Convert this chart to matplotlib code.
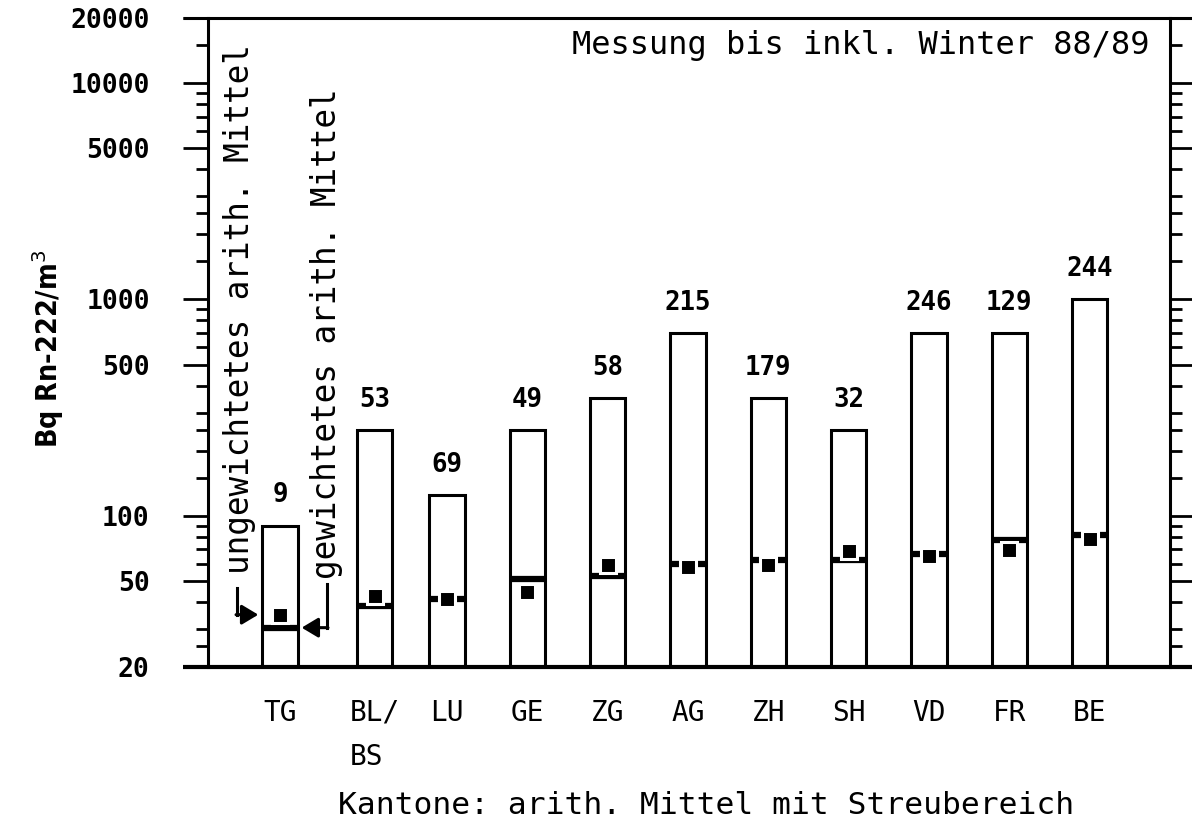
import matplotlib
matplotlib.use("Agg")
import matplotlib.pyplot as plt
from matplotlib.ticker import NullFormatter

# ---------------- data ----------------
cantons = ["TG", "BL/\nBS", "LU", "GE", "ZG", "AG", "ZH", "SH", "VD", "FR", "BE"]
n_samples = [9, 53, 69, 49, 58, 215, 179, 32, 246, 129, 244]
range_max = [90, 250, 125, 250, 350, 700, 350, 250, 700, 700, 1000]
weighted_mean = [30.4, 38.4, 41.4, 50.8, 52.5, 60, 62.4, 62.3, 66.4, 77.2, 81.4]
unweighted_mean = [34.9, 42.4, 41.4, 44.2, 59.0, 58, 59.1, 68.6, 64.9, 69.3, 78.0]
major_ticks = [20, 50, 100, 500, 1000, 5000, 10000, 20000]
minor_mult = [1.5, 2, 2.5, 3, 4, 6, 7, 8, 9]

# ---------------- layout ----------------
W, H = 1192, 832
fig = plt.figure(figsize=(W / 100, H / 100), dpi=100)
fig.patch.set_facecolor("white")
ax = fig.add_axes([208 / W, 1 - 667 / H, 962 / W, 649 / H])
ax.set_yscale("log")
ymin, ymax = major_ticks[0], major_ticks[-1]
ax.set_ylim(ymin, ymax)
ax.set_xlim(-0.976, 11.0)

# slight irregular spacing of the first two columns in the original
offsets = [-0.08, 0.10] + [0.0] * (len(cantons) - 2)
xs = [i + o for i, o in enumerate(offsets)]
bw = 0.44

MONO = "DejaVu Sans Mono"

# boxes (scatter range)
ax.bar(xs, [t - ymin for t in range_max], bottom=ymin, width=bw,
       fill=False, edgecolor="black", linewidth=2.2, zorder=2)
# weighted mean: thick line across box
ax.hlines(weighted_mean, [x - bw / 2 for x in xs], [x + bw / 2 for x in xs],
          colors="black", linewidth=4.5, zorder=3, capstyle="butt")
# unweighted mean: black square with white knock-out border
ax.plot(xs, unweighted_mean, linestyle="none", marker="s", markersize=11.5,
        markerfacecolor="black", markeredgecolor="white", markeredgewidth=2.2,
        zorder=4)

# sample counts above boxes
for x, t, n in zip(xs, range_max, n_samples):
    ax.text(x, t * 1.28, str(n), ha="center", va="baseline",
            fontfamily=MONO, fontweight="bold", fontsize=18.5)

# ---------------- axes styling ----------------
ax.set_yticks(major_ticks)
ax.set_yticklabels([str(v) for v in major_ticks], fontfamily=MONO,
                   fontweight="bold", fontsize=19)
minor = []
for d in [10, 100, 1000, 10000]:
    for m in minor_mult:
        v = m * d
        if ymin < v < ymax and v not in major_ticks:
            minor.append(v)
ax.set_yticks(minor, minor=True)
ax.yaxis.set_minor_formatter(NullFormatter())
ax.tick_params(axis="y", which="both", direction="out", left=True, right=True,
               width=2, color="black")
ax.tick_params(axis="y", which="major", length=18, pad=24)
ax.tick_params(axis="y", which="minor", length=8.6)

ax.set_xticks(xs)
ax.set_xticklabels(cantons, fontfamily=MONO, fontsize=20)
ax.tick_params(axis="x", length=0, pad=23)
for lbl in ax.get_xticklabels():
    lbl.set_linespacing(1.75)
    lbl.set_multialignment("left")

for s in ["top", "bottom"]:
    ax.spines[s].set_visible(False)
for s in ["left", "right"]:
    ax.spines[s].set_linewidth(2.2)
# extended frame lines at top and bottom
ax.plot([-0.026, 1.03], [1, 1], transform=ax.transAxes, color="black",
        linewidth=2.2, clip_on=False, solid_capstyle="butt")
ax.plot([-0.026, 1.03], [0, 0], transform=ax.transAxes, color="black",
        linewidth=3, clip_on=False, solid_capstyle="butt")

ax.set_ylabel("Bq Rn-222/m$^3$", fontsize=20.5, fontstretch="condensed",
              fontweight="bold")
ax.yaxis.label.set_va("center")
ax.yaxis.set_label_coords(-0.166, 0.49)

fig.text(706 / W, 1 - 805 / H, "Kantone: arith. Mittel mit Streubereich",
         ha="center", va="center", fontfamily=MONO, fontsize=22.5)

ax.text(0.979, 0.958, "Messung bis inkl. Winter 88/89", transform=ax.transAxes,
        ha="right", va="center", fontfamily=MONO, fontsize=23)

# ---------------- legend-like annotations ----------------
x0 = xs[0]
ax.text(x0 - 0.51, 54, "ungewichtetes arith. Mittel", rotation=90,
        ha="center", va="bottom", fontfamily=MONO, fontsize=23.5)
ax.text(x0 + 0.573, 51, "gewichtetes arith. Mittel", rotation=90,
        ha="center", va="bottom", fontfamily=MONO, fontsize=23.5)

ux, uy = x0 - 0.535, unweighted_mean[0]
ax.plot([ux, ux], [46.5, uy], color="black", linewidth=2.2)
ax.annotate("", xy=(x0 - bw / 2 - 0.05, uy), xytext=(ux - 0.012, uy),
            arrowprops=dict(arrowstyle="-|>,head_length=0.5,head_width=0.3",
                            color="black", lw=2.2, shrinkA=0, shrinkB=0,
                            mutation_scale=20))
gx, gy = x0 + 0.586, weighted_mean[0]
ax.plot([gx, gx], [48.2, gy], color="black", linewidth=2.2)
ax.annotate("", xy=(x0 + bw / 2 + 0.05, gy), xytext=(gx + 0.012, gy),
            arrowprops=dict(arrowstyle="-|>,head_length=0.5,head_width=0.3",
                            color="black", lw=2.2, shrinkA=0, shrinkB=0,
                            mutation_scale=20))

fig.savefig("out.png", dpi=100, facecolor="white")
